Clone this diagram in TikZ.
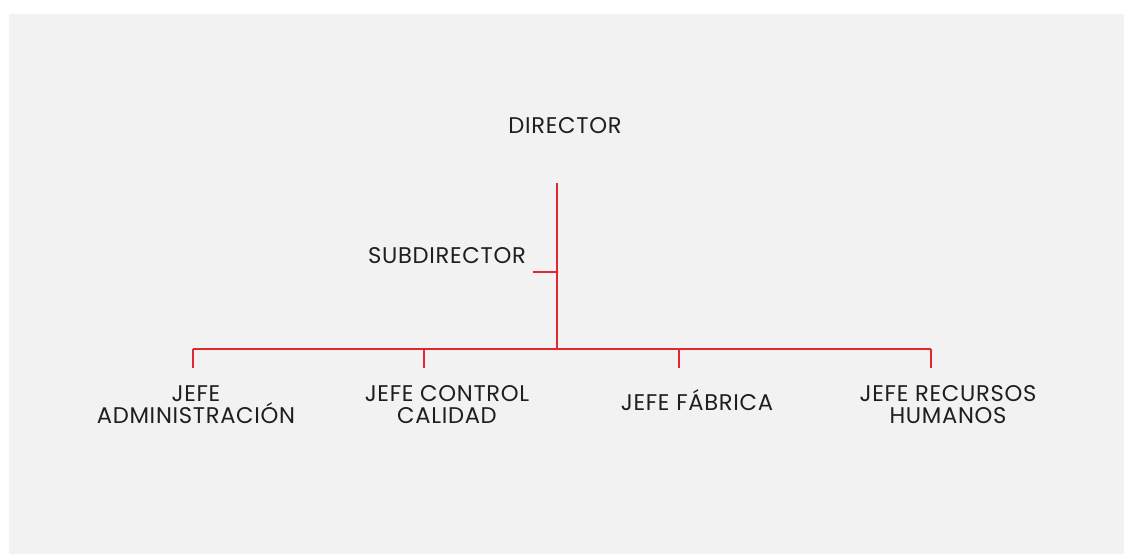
\documentclass[tikz,border=0pt]{standalone}
\usepackage{fontspec}
\setmainfont[LetterSpace=3]{Poppins}
\definecolor{linea}{HTML}{E0282D}
\definecolor{fondo}{HTML}{F2F2F2}
\tikzset{
  cargo/.style={align=center,font=\fontsize{17}{16.5}\selectfont,text=black!88,inner sep=0pt},
  rama/.style={linea,line width=0.8pt}
}

\begin{document}
\begin{tikzpicture}[x=0.75pt,y=-0.75pt]
	\useasboundingbox (0,0) rectangle (1124,554);
	\fill[fondo] (9,14) rectangle (1124,554);
	\node[cargo] (dir) at (565,126) {DIRECTOR};
	\node[cargo] (sub) at (447,256) {SUBDIRECTOR};
	\coordinate (tronco) at (557,183);
	\coordinate (barra) at (557,349);
	\coordinate (izq) at (193,349);
	\coordinate (der) at (931,349);
	\coordinate (sublinea) at (533,272);
	\draw[rama] (tronco) -- (barra);
	\draw[rama] (sublinea) -- (sublinea -| barra);
	\draw[rama] (izq) -- (der);
	\foreach \n/\x/\lx/\ly/\t in {adm/193/196/404.5/{JEFE\\ADMINISTRACIÓN},cal/424/447/404.5/{JEFE CONTROL\\CALIDAD},fab/679/697/400.5/{JEFE FÁBRICA},rh/931/948/404.5/{JEFE RECURSOS\\HUMANOS}}{
		\node[cargo] (\n) at (\lx,\ly) {\t};
		\coordinate (c\n) at (\x,349);
		\draw[rama] (c\n) -- ++(0,19);
	}
\end{tikzpicture}
\end{document}
